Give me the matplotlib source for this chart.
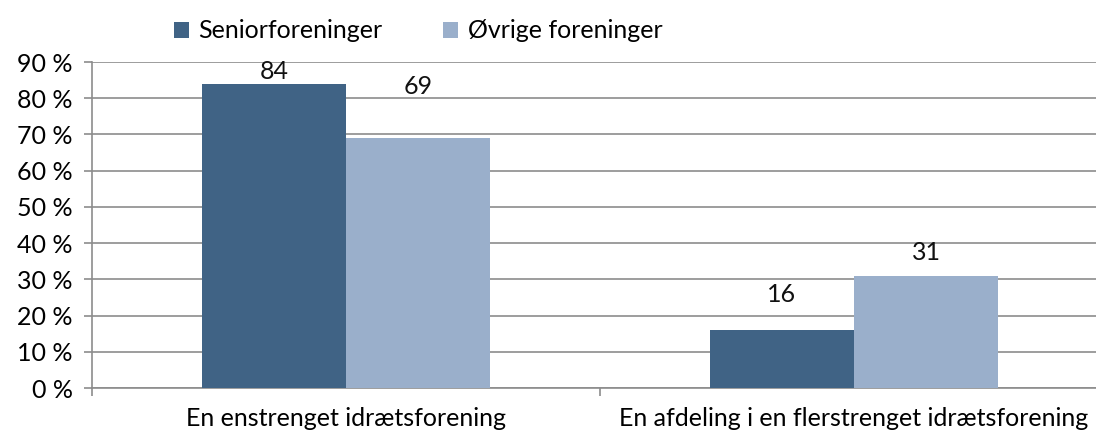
import matplotlib.pyplot as plt
import numpy as np

categories = ["En enstrenget idrætsforening", "En afdeling i en flerstrenget idrætsforening"]
series_names = ["Seniorforeninger", "Øvrige foreninger"]
senior = [84, 16]
ovrige = [69, 31]
yticks = [0, 10, 20, 30, 40, 50, 60, 70, 80, 90]

# label lift above bar top, as placed in the original
senior_lift = [0.3, 6.5]
ovrige_lift = [11.0, 3.2]

plt.rcParams['font.family'] = ['Lato', 'DejaVu Sans']

dark = '#406385'
light = '#9AAFCB'
grid = '#8C8C8C'
fs = 18

fig = plt.figure(figsize=(10.96, 4.33), dpi=100)
ax = fig.add_axes([92 / 1096, 1 - 388 / 433, 1004 / 1096, (388 - 62) / 433])

x = np.arange(len(categories))
w = 0.2835
b1 = ax.bar(x - w / 2, senior, w, color=dark, label=series_names[0], zorder=3)
b2 = ax.bar(x + w / 2, ovrige, w, color=light, label=series_names[1], zorder=3)

for bars, lifts in ((b1, senior_lift), (b2, ovrige_lift)):
    for rect, lift in zip(bars, lifts):
        h = rect.get_height()
        ax.text(rect.get_x() + rect.get_width() / 2, h + lift, f"{h:.0f}",
                ha='center', va='bottom', fontsize=fs, color='#111111', zorder=4)

ax.set_xlim(-0.5, -0.5 + 1004 / 508)
ax.set_ylim(0, 90)
ax.set_yticks(yticks)
ax.set_yticklabels([f"{v} %" for v in yticks], fontsize=fs)
ax.yaxis.grid(True, color=grid, linewidth=1.2, zorder=0)
ax.set_xticks([-0.5, 0.5])
ax.set_xticklabels([])
ax.set_xticks(x, minor=True)
ax.set_xticklabels(categories, minor=True, fontsize=fs)
ax.tick_params(axis='x', which='minor', length=0, pad=14)
ax.tick_params(axis='x', which='major', length=6, color=grid, width=1.2)
ax.tick_params(axis='y', length=6, color=grid, width=1.2, pad=8)

for s in ['top', 'right']:
    ax.spines[s].set_visible(False)
for s in ['left', 'bottom']:
    ax.spines[s].set_color(grid)
    ax.spines[s].set_linewidth(1.2)

fig.legend(handles=[b1, b2], labels=series_names, loc='center left',
           bbox_to_anchor=(151 / 1096, 1 - 31 / 433), ncol=2, frameon=False,
           fontsize=fs, handlelength=0.6, handleheight=0.6, handletextpad=0.4,
           columnspacing=2.4)

fig.savefig('out.png', dpi=100)
